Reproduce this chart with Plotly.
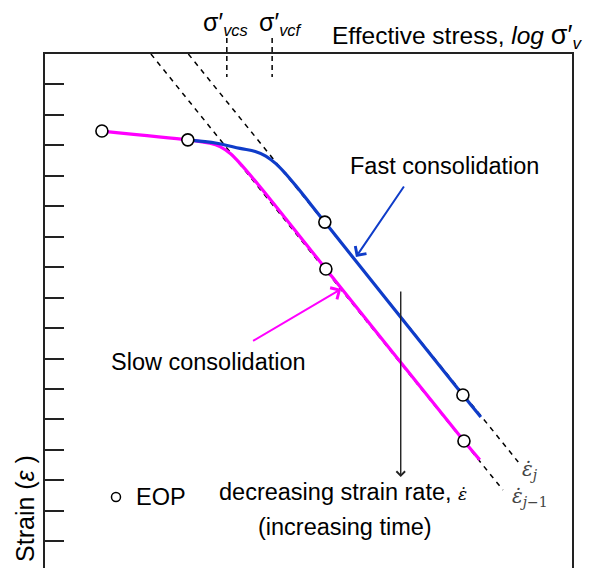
import plotly.graph_objects as go

# ---- data (x: log effective stress, arbitrary units; y: strain, arbitrary units) ----
slow_x = [1.08, 2.71, 3.13, 3.32, 3.51, 3.70, 4.08, 5.33, 7.95, 8.25]
slow_y = [2.53, 2.82, 2.93, 3.04, 3.26, 3.59, 4.36, 7.06, 12.71, 13.33]

fast_x = [2.71, 3.26, 3.70, 3.99, 4.19, 4.38, 4.57, 4.78, 5.31, 7.93, 8.27]
fast_y = [2.82, 2.93, 3.10, 3.20, 3.35, 3.60, 3.94, 4.37, 5.52, 11.20, 11.92]

eop_x = [1.08, 2.71, 5.31, 5.33, 7.93, 7.95]
eop_y = [2.53, 2.82, 5.52, 7.06, 11.20, 12.71]

rate_j_x = [2.72, 8.98]
rate_j_y = [0.0, 13.40]
rate_j1_x = [2.01, 8.69]
rate_j1_y = [0.0, 14.32]

sigma_vc_x = [3.45, 4.31]
sigma_vc_labels = ["vcs", "vcf"]

strain_ticks = list(range(1, 17))

X_RANGE = [0, 10.0]
Y_RANGE = [16.88, 0]

BLUE = "#0f3cc9"
MAGENTA = "#ff00ff"
FONT = "Liberation Sans, Arial, sans-serif"
SERIF = "DejaVu Serif, serif"
FS = 23.5

fig = go.Figure()

# dashed strain-rate lines
for xs, ys in [(rate_j1_x, rate_j1_y), (rate_j_x, rate_j_y)]:
    fig.add_trace(go.Scatter(x=xs, y=ys, mode="lines",
                             line=dict(color="black", width=1.5, dash="5px,5px"),
                             showlegend=False, hoverinfo="skip"))

# curves
fig.add_trace(go.Scatter(x=slow_x, y=slow_y, mode="lines",
                         line=dict(color=MAGENTA, width=3.2, shape="spline", smoothing=0.8),
                         showlegend=False))
fig.add_trace(go.Scatter(x=fast_x, y=fast_y, mode="lines",
                         line=dict(color=BLUE, width=3.2, shape="spline", smoothing=1.0),
                         showlegend=False))

# EOP markers
fig.add_trace(go.Scatter(x=eop_x, y=eop_y, mode="markers",
                         marker=dict(size=12, color="white", line=dict(color="black", width=1.6)),
                         showlegend=False))

# legend marker
fig.add_trace(go.Scatter(x=[1.347], y=[14.55], mode="markers",
                         marker=dict(size=9, color="white", line=dict(color="black", width=1.5)),
                         showlegend=False))

# short dashed marks for preconsolidation stresses
for xv in sigma_vc_x:
    fig.add_shape(type="line", xref="x", yref="paper", x0=xv, x1=xv,
                  y0=1 + (54 - 38) / 514, y1=1 + (54 - 77) / 514,
                  line=dict(color="black", width=1.5, dash="5px,4px"))

ann = []
for xv, lab, shift in zip(sigma_vc_x, sigma_vc_labels, [-1, 8]):
    ann.append(dict(x=xv, y=1 + (54 - 24) / 514, xref="x", yref="paper", xshift=shift,
                    text=f"<span style='font-size:25px'>σ′</span><sub><i>{lab}</i></sub>",
                    showarrow=False,
                    font=dict(size=FS, family=FONT, color="black"),
                    xanchor="center", yanchor="middle"))

ann.append(dict(x=(585 - 45) / 527, y=1 + (54 - 37) / 514, xref="paper", yref="paper",
                text="Effective stress, <i>log</i> <span style='font-size:27px'>σ′</span><sub><i>v</i></sub>",
                showarrow=False,
                font=dict(size=24.5, family=FONT, color="black"),
                xanchor="right", yanchor="middle"))

ann.append(dict(x=-0.038, y=1 + (54 - 508) / 514, xref="paper", yref="paper",
                text="Strain (<i>ε</i> )", textangle=-90, showarrow=False,
                font=dict(size=25, family=FONT, color="black"),
                xanchor="center", yanchor="middle"))

ann.append(dict(x=5.75, y=3.68, xref="x", yref="y", text="Fast consolidation",
                showarrow=False, xanchor="left", yanchor="middle",
                font=dict(size=FS, family=FONT, color="black")))
ann.append(dict(x=1.22, y=10.11, xref="x", yref="y", text="Slow consolidation",
                showarrow=False, xanchor="left", yanchor="middle",
                font=dict(size=FS, family=FONT, color="black")))
ann.append(dict(x=1.695, y=14.55, xref="x", yref="y", text="EOP",
                showarrow=False, xanchor="left", yanchor="middle",
                font=dict(size=FS, family=FONT, color="black")))
ann.append(dict(x=5.66, y=14.37, xref="x", yref="y",
                text="decreasing strain rate, <span style='font-family:DejaVu Serif;font-size:17px'><i>ε̇</i></span>",
                showarrow=False, xanchor="center", yanchor="middle",
                font=dict(size=FS, family=FONT, color="black")))
ann.append(dict(x=5.69, y=15.53, xref="x", yref="y", text="(increasing time)",
                showarrow=False, xanchor="center", yanchor="middle",
                font=dict(size=FS, family=FONT, color="black")))
ann.append(dict(x=9.20, y=13.66, xref="x", yref="y", text="<i>ε̇</i><sub><i>j</i></sub>",
                showarrow=False, xanchor="center", yanchor="middle",
                font=dict(size=20, family=SERIF, color="#444")))
ann.append(dict(x=9.20, y=14.55, xref="x", yref="y", text="<i>ε̇</i><sub><i>j</i>−1</sub>",
                showarrow=False, xanchor="center", yanchor="middle",
                font=dict(size=20, family=SERIF, color="#444")))

# arrows
ann.append(dict(x=5.90, y=6.67, ax=6.83, ay=4.30, xref="x", yref="y", axref="x", ayref="y",
                showarrow=True, arrowhead=4, arrowsize=1.3, arrowwidth=2, arrowcolor=BLUE, text=""))
ann.append(dict(x=5.62, y=7.72, ax=3.92, ay=9.45, xref="x", yref="y", axref="x", ayref="y",
                showarrow=True, arrowhead=4, arrowsize=1.3, arrowwidth=2, arrowcolor=MAGENTA, text=""))
ann.append(dict(x=6.75, y=13.89, ax=6.75, ay=7.75, xref="x", yref="y", axref="x", ayref="y",
                showarrow=True, arrowhead=4, arrowsize=1.2, arrowwidth=1.4, arrowcolor="#222", text=""))

# page body has an 8px default margin: figure is 8px smaller so the plot lands in place
fig.update_layout(
    width=587, height=560,
    margin=dict(l=37, r=23, t=46, b=0),
    paper_bgcolor="white", plot_bgcolor="white",
    annotations=ann,
    xaxis=dict(range=X_RANGE, side="top", showline=True, linecolor="#222", linewidth=2,
               mirror=False, showgrid=False, zeroline=False, showticklabels=False, ticks=""),
    yaxis=dict(range=Y_RANGE, showline=True, linecolor="#222", linewidth=2, mirror=True,
               showgrid=False, zeroline=False, showticklabels=False,
               ticks="inside", ticklen=19, tickwidth=2, tickcolor="#222",
               tickvals=strain_ticks),
)

fig.write_html("out.html")
